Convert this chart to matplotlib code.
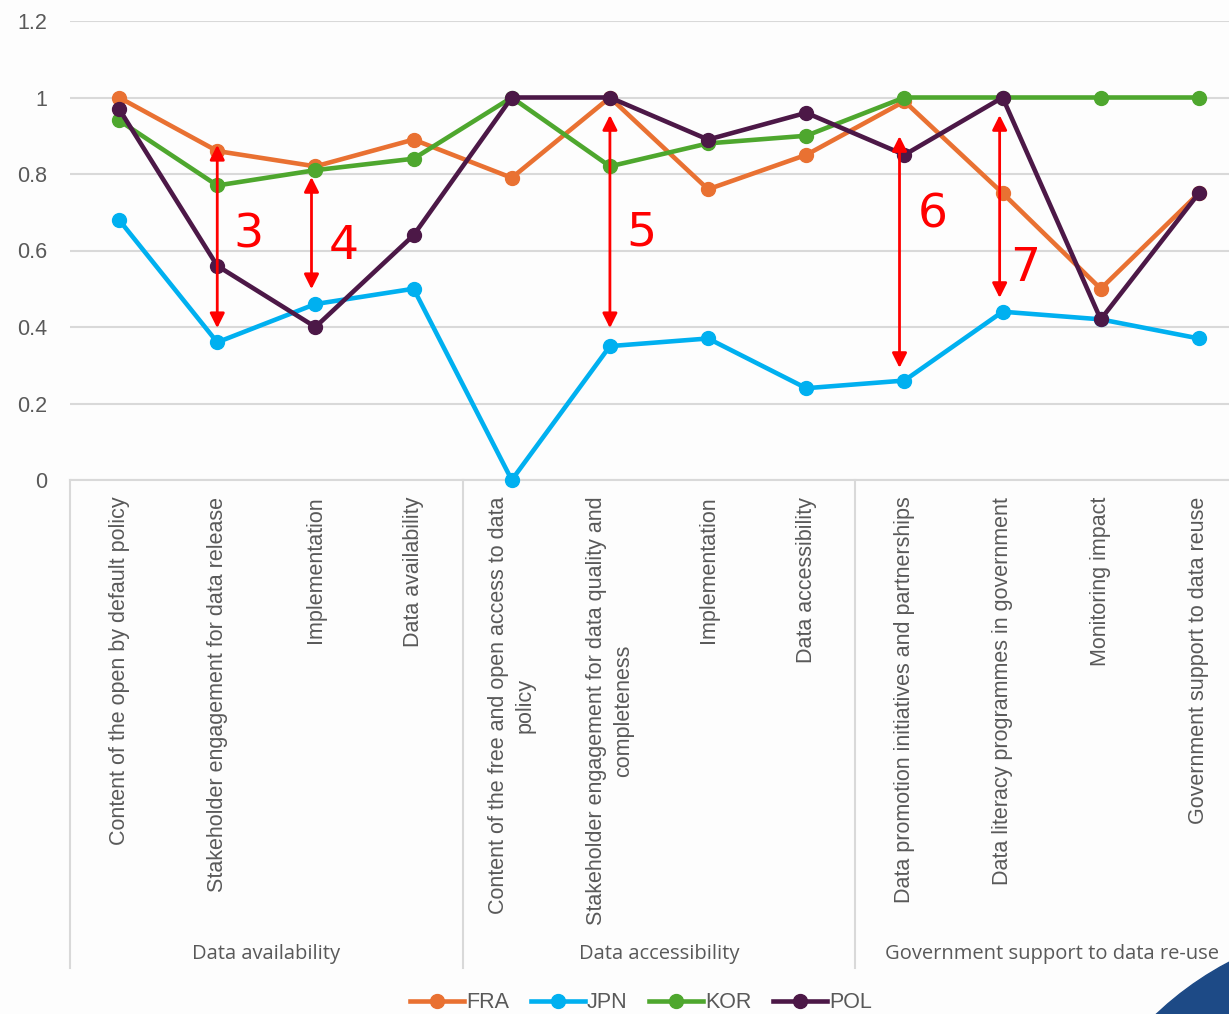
import matplotlib.pyplot as plt
from matplotlib.lines import Line2D
from matplotlib.patches import Circle


COL_FRA = "#E97132"
COL_JPN = "#00B0F0"
COL_KOR = "#4EA72E"
COL_POL = "#4C1847"
COL_TEXT = "#595959"
COL_GRID = "#D9D9D9"

plt.rcParams.update({
    "font.family": ["Liberation Sans", "DejaVu Sans"],
    "figure.dpi": 100,
})

categories = [
    "Content of the open by default policy",
    "Stakeholder engagement for data release",
    "Implementation",
    "Data availability",
    "Content of the free and open access to data\npolicy",
    "Stakeholder engagement for data quality and\ncompleteness",
    "Implementation",
    "Data accessibility",
    "Data promotion initiatives and partnerships",
    "Data literacy programmes in government",
    "Monitoring impact",
    "Government support to data reuse",
]
groups = ["Data availability", "Data accessibility", "Government support to data re-use"]
group_size = 4

fra = [1.00, 0.86, 0.82, 0.89, 0.79, 1.00, 0.76, 0.85, 0.99, 0.75, 0.50, 0.75]
jpn = [0.68, 0.36, 0.46, 0.50, 0.00, 0.35, 0.37, 0.24, 0.26, 0.44, 0.42, 0.37]
kor = [0.94, 0.77, 0.81, 0.84, 1.00, 0.82, 0.88, 0.90, 1.00, 1.00, 1.00, 1.00]
pol = [0.97, 0.56, 0.40, 0.64, 1.00, 1.00, 0.89, 0.96, 0.85, 1.00, 0.42, 0.75]

# gap arrows and their numbers
gap_labels = ["3", "4", "5", "6", "7"]
gap_x = [1.0, 1.96, 5.0, 7.95, 8.97]
gap_top = [0.876, 0.792, 0.954, 0.899, 0.954]
gap_bottom = [0.397, 0.499, 0.397, 0.293, 0.476]
label_x = [1.32, 2.29, 5.32, 8.29, 9.23]
label_y = [0.64, 0.61, 0.645, 0.693, 0.552]


def main():
    fig = plt.figure(figsize=(12.29, 10.14))
    fig.patch.set_facecolor("#FDFDFD")
    ax = fig.add_axes([70 / 1229, 1 - 480 / 1014, 1178 / 1229, 459 / 1014])
    ax.set_facecolor("#FDFDFD")

    x = list(range(len(categories)))
    series = [("FRA", fra, COL_FRA), ("JPN", jpn, COL_JPN),
              ("KOR", kor, COL_KOR), ("POL", pol, COL_POL)]
    for name, vals, col in series:
        ax.plot(x, vals, color=col, lw=3.3, marker="o", ms=10,
                label=name, zorder=3, clip_on=False)

    ax.set_xlim(-0.5, len(categories) - 0.5)
    ax.set_ylim(0, 1.2)
    ax.set_yticks([0, 0.2, 0.4, 0.6, 0.8, 1.0, 1.2])
    ax.set_yticklabels(["0", "0.2", "0.4", "0.6", "0.8", "1", "1.2"])
    ax.tick_params(axis="y", length=0, pad=16.5, labelsize=15.5, labelcolor=COL_TEXT)
    ax.set_xticks(x)
    ax.set_xticklabels(categories, rotation=90, fontsize=15.5, color=COL_TEXT,
                       multialignment="center", linespacing=1.35)
    ax.tick_params(axis="x", length=0, pad=12)

    ax.grid(axis="y", color=COL_GRID, lw=1.5)
    ax.set_axisbelow(True)
    for s in ["top", "right", "left"]:
        ax.spines[s].set_visible(False)
    ax.spines["bottom"].set_color(COL_GRID)
    ax.spines["bottom"].set_linewidth(1.5)

    # group separators and labels below the axis
    sep_bottom = -488 / 459
    for k in range(len(groups) + 1):
        xs = k * group_size - 0.5
        ax.add_line(Line2D([xs, xs], [0, sep_bottom], color=COL_GRID, lw=1.5,
                           transform=ax.get_xaxis_transform(), clip_on=False))
    for k, g in enumerate(groups):
        xc = k * group_size + (group_size - 1) / 2
        ax.text(xc, -474 / 459, g, transform=ax.get_xaxis_transform(),
                ha="center", va="center", fontsize=14.5, color=COL_TEXT,
                family=["Open Sans", "DejaVu Sans"])

    # red gap arrows
    for lab, gx, top, bot, lx, ly in zip(gap_labels, gap_x, gap_top,
                                         gap_bottom, label_x, label_y):
        ax.annotate("", xy=(gx, top), xytext=(gx, bot),
                    arrowprops=dict(arrowstyle="<|-|>", color="red", lw=2,
                                    mutation_scale=22, shrinkA=0, shrinkB=0),
                    zorder=5)
        ax.text(lx, ly, lab, color="red", fontsize=34, ha="center",
                va="center", family="DejaVu Sans", zorder=5)

    fig.legend(loc="center", bbox_to_anchor=(641 / 1229, 1 - 1003 / 1014),
               ncol=4, frameon=False, fontsize=15.5, handlelength=2.5,
               columnspacing=1.0, handletextpad=0.1, labelcolor=COL_TEXT,
               borderaxespad=0)

    # slide decoration in the corner
    fig.patches.append(Circle((1380, 1014 - 1250), 325, color="#1D4A86",
                              transform=None, zorder=0))

    fig.savefig("out.png", dpi=100, facecolor=fig.get_facecolor())


if __name__ == "__main__":
    main()
